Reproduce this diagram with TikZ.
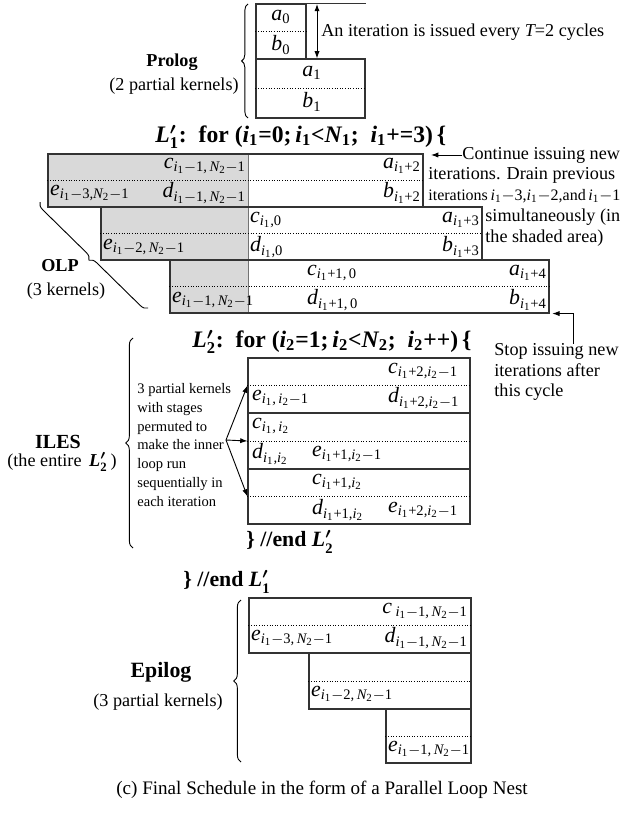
\documentclass[tikz,border=0pt]{standalone}
\usepackage[no-math]{fontspec}
\setmainfont{Liberation Serif}
\newfontfamily\libserif{Liberation Serif}[NFSSFamily=libser]
% Times-like math letters and digits
\DeclareSymbolFont{letters}{TU}{libser}{m}{it}
\SetSymbolFont{letters}{bold}{TU}{libser}{b}{it}
\DeclareSymbolFont{operators}{TU}{libser}{m}{n}
\SetSymbolFont{operators}{bold}{TU}{libser}{b}{n}
\AtBeginDocument{\mathcode`,="612C \mathcode`;="603B}
\usepackage{tikz}
\usetikzlibrary{calc,arrows.meta,fit,decorations.pathreplacing}
\definecolor{shadeGrey}{HTML}{D9D9D9}
\definecolor{frameGrey}{HTML}{333333}
\tikzset{
  rowbox/.style={rectangle, draw=frameGrey, line width=0.6pt, inner sep=0pt},
  shadebox/.style={rectangle, fill=shadeGrey, draw=black!55, line width=0.5pt, inner sep=0pt},
  halfline/.style={densely dotted, line width=0.45pt},
  stagelbl/.style={font=\large, inner sep=1pt},
  notetext/.style={font=\fontsize{10}{11.2}\selectfont, inner sep=0pt, anchor=west, align=left},
  looptext/.style={font=\fontsize{13}{15}\selectfont\bfseries\boldmath, inner sep=0pt, anchor=west},
  partlbl/.style={font=\bfseries, inner sep=0pt},
  partsub/.style={font=\normalsize, inner sep=0pt},
  permtext/.style={font=\fontsize{8}{10.4}\selectfont, inner sep=0pt, anchor=west, align=left},
  bracepath/.style={decorate, decoration={brace, amplitude=#1}, line width=0.5pt},
  bracepath/.default=4pt,
  notearrow/.style={-{Latex[length=1.4mm,width=1mm]}, line width=0.5pt},
}

\begin{document}
\begin{tikzpicture}[x=0.55pt,y=-0.55pt]
  \useasboundingbox (0,0) rectangle (624,822);

  % Prolog
  \node[rowbox, fit={(256,4) (306,59)}] (pro0) {};
  \node[rowbox, fit={(256,59) (365,118)}] (pro1) {};
  \draw[halfline] (pro0.west) -- (pro0.east);
  \draw[halfline] (pro1.west) -- (pro1.east);
  \draw[line width=0.6pt, draw=frameGrey] (pro0.north east) -- (pro0.north east -| pro1.east);
  \node[stagelbl] (a0) at (281,17) {$a_0$};
  \node[stagelbl] (b0) at (281,45) {$b_0$};
  \node[stagelbl] (a1) at (312,73) {$a_1$};
  \node[stagelbl] (b1) at (312,102) {$b_1$};
  \coordinate (issueTop) at (317,4);
  \draw[{Latex[length=1.4mm,width=1mm]}-{Latex[length=1.4mm,width=1mm]}, line width=0.5pt] (issueTop) -- (issueTop |- pro1.north);
  \node[notetext] (issueNote) at (321,32) {An iteration is issued every $T$=2 cycles};
  \draw[bracepath=3.5pt] (248,118) -- (248,4);
  \node[partlbl] (proLbl) at (172,62) {Prolog};
  \node[partsub] (proSub) at (174,86) {(2 partial kernels)};

  % OLP: outer loop L1'
  \node[looptext] (loopOne) at (155,137) {$L_1'$:\ \ for ($i_1$=0;\,$i_1{<}N_1$;\ \ $i_1$+=3)\,\{};
  \node[shadebox, fit={(48,154) (248,207)}] (sh1) {};
  \node[shadebox, fit={(101,207) (248,260)}] (sh2) {};
  \node[shadebox, fit={(170,260) (248,313)}] (sh3) {};
  \node[rowbox, fit={(48,154) (423,207)}] (olp1) {};
  \node[rowbox, fit={(101,207) (482,260)}] (olp2) {};
  \node[rowbox, fit={(170,260) (549,313)}] (olp3) {};
  \draw[halfline] (olp1.west) -- (olp1.east);
  \draw[halfline] (olp2.west) -- (olp2.east);
  \draw[halfline] (olp3.west) -- (olp3.east);
  \node[stagelbl, anchor=east] (c1) at (248,166) {$c_{i_1-1,\,N_2-1}$};
  \node[stagelbl, anchor=west] (e1) at (48,193) {$e_{i_1-3,N_2-1}$};
  \node[stagelbl, anchor=east] (d1) at (248,193) {$d_{i_1-1,\,N_2-1}$};
  \node[stagelbl, anchor=east] (a2) at (423,166) {$a_{i_1+2}$};
  \node[stagelbl, anchor=east] (b2) at (423,193) {$b_{i_1+2}$};
  \node[stagelbl, anchor=west] (c2) at (248,220) {$c_{i_1,0}$};
  \node[stagelbl, anchor=west] (d2) at (248,247) {$d_{i_1,0}$};
  \node[stagelbl, anchor=west] (e2) at (101,247) {$e_{i_1-2,\,N_2-1}$};
  \node[stagelbl, anchor=east] (a3) at (482,220) {$a_{i_1+3}$};
  \node[stagelbl, anchor=east] (b3) at (482,247) {$b_{i_1+3}$};
  \node[stagelbl, anchor=west] (c3) at (305,273) {$c_{i_1+1,\,0}$};
  \node[stagelbl, anchor=west] (d3) at (305,300) {$d_{i_1+1,\,0}$};
  \node[stagelbl, anchor=west] (e3) at (170,300) {$e_{i_1-1,\,N_2-1}$};
  \node[stagelbl, anchor=east] (a4) at (549,273) {$a_{i_1+4}$};
  \node[stagelbl, anchor=east] (b4) at (549,300) {$b_{i_1+4}$};
  \draw[bracepath=4pt] (148,308) -- (40,202);
  \node[partlbl] (olpLbl) at (60,266) {OLP};
  \node[partsub] (olpSub) at (66,291) {(3 kernels)};

  % notes on the right
  \node[notetext] (cont1) at (462,155) {Continue issuing new};
  \node[notetext] (cont2) at (428,175) {iterations. Drain previous};
  \node[notetext, font=\fontsize{8.8}{11}\selectfont] (cont3) at (428,196) {iterations\,$i_1{-}3$,$i_1{-}2$,and\,$i_1{-}1$};
  \node[notetext] (cont4) at (485,217) {simultaneously (in};
  \node[notetext] (cont5) at (485,238) {the shaded area)};
  \coordinate (contTip) at (431,155);
  \draw[notearrow] (cont1.west) -- (contTip);
  \node[notetext] (stopNote) at (494,372) {Stop issuing new\\iterations after\\this cycle};
  \coordinate (stopFoot) at (573,344);
  \draw[notearrow] (stopFoot) |- ([xshift=1.5pt]olp3.south east);

  % ILES: inner loop L2'
  \node[looptext] (loopTwo) at (192,342) {$L_2'$:\ \ for ($i_2$=1;\,$i_2{<}N_2$;\ \ $i_2$++)\,\{};
  \node[rowbox, fit={(248,358) (470,413)}] (ilesA) {};
  \node[rowbox, fit={(248,413) (470,469)}] (ilesB) {};
  \node[rowbox, fit={(248,469) (470,524)}] (ilesC) {};
  \draw[halfline] (ilesA.west) -- (ilesA.east);
  \draw[halfline] (ilesB.west) -- (ilesB.east);
  \draw[halfline] (ilesC.west) -- (ilesC.east);
  \node[stagelbl, anchor=west] (cA) at (386,371) {$c_{i_1+2,i_2-1}$};
  \node[stagelbl, anchor=west] (eA) at (250,398) {$e_{i_1,\,i_2-1}$};
  \node[stagelbl, anchor=west] (dA) at (386,398) {$d_{i_1+2,i_2-1}$};
  \node[stagelbl, anchor=west] (cB) at (250,426) {$c_{i_1,\,i_2}$};
  \node[stagelbl, anchor=west] (dB) at (250,454) {$d_{i_1,i_2}$};
  \node[stagelbl, anchor=west] (eB) at (310,454) {$e_{i_1+1,i_2-1}$};
  \node[stagelbl, anchor=west] (cC) at (310,482) {$c_{i_1+1,i_2}$};
  \node[stagelbl, anchor=west] (dC) at (310,510) {$d_{i_1+1,i_2}$};
  \node[stagelbl, anchor=west] (eC) at (386,510) {$e_{i_1+2,i_2-1}$};
  \node[permtext] (perm) at (137,445) {3 partial kernels\\with stages\\permuted to\\make the inner\\loop run\\sequentially in\\each iteration};
  \coordinate (permFork) at (226,440);
  \draw[notearrow] (permFork) -- (ilesA.west);
  \draw[notearrow] (permFork) -- (ilesB.west);
  \draw[notearrow] (permFork) -- (ilesC.west);
  \draw[bracepath=4pt] (133,548) -- (133,338);
  \node[partlbl, font=\fontsize{11}{13}\selectfont\bfseries] (ilesLbl) at (58,442) {ILES};
  \node[partsub] (ilesSub) at (62,462) {(the entire \,{\bfseries\boldmath$L_2'$}\,)};
  \node[looptext, font=\large\bfseries\boldmath] (endTwo) at (246,542) {\}\ //end $L_2'$};
  \node[looptext, font=\large\bfseries\boldmath] (endOne) at (183,582) {\}\ //end $L_1'$};

  % Epilog
  \node[rowbox, fit={(249,598) (471,653)}] (epi1) {};
  \node[rowbox, fit={(309,653) (471,709)}] (epi2) {};
  \node[rowbox, fit={(386,709) (471,763)}] (epi3) {};
  \draw[halfline] (epi1.west) -- (epi1.east);
  \draw[halfline] (epi2.west) -- (epi2.east);
  \draw[halfline] (epi3.west) -- (epi3.east);
  \node[stagelbl, anchor=east] (cE1) at (470,611) {$c\,_{i_1-1,\,N_2-1}$};
  \node[stagelbl, anchor=west] (eE1) at (249,638) {$e_{i_1-3,\,N_2-1}$};
  \node[stagelbl, anchor=east] (dE1) at (470,638) {$d_{i_1-1,\,N_2-1}$};
  \node[stagelbl, anchor=west] (eE2) at (309,694) {$e_{i_1-2,\,N_2-1}$};
  \node[stagelbl, anchor=west] (eE3) at (386,749) {$e_{i_1-1,\,N_2-1}$};
  \draw[bracepath=4pt] (241,762) -- (241,600);
  \node[partlbl, font=\large\bfseries] (epiLbl) at (161,672) {Epilog};
  \node[partsub] (epiSub) at (158,702) {(3 partial kernels)};

  % caption
  \node[font=\fontsize{10.5}{12}\selectfont, inner sep=0pt] (caption) at (322,790) {(c) Final Schedule in the form of a Parallel Loop Nest};
\end{tikzpicture}
\end{document}
